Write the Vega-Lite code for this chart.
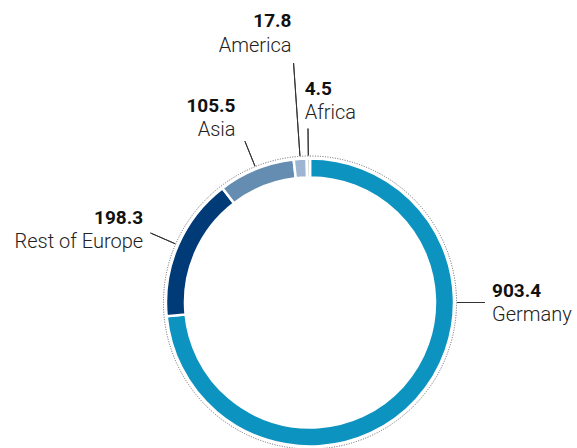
{
  "$schema": "https://vega.github.io/schema/vega-lite/v6.json",
  "width": 534,
  "height": 291,
  "autosize": {"type": "none"},
  "padding": {"left": 43, "top": 157, "right": 0, "bottom": 0},
  "config": {"view": {"stroke": null}},
  "data": {
    "values": [
      {"region": "Germany", "value": 903.4, "rank": 1},
      {"region": "Rest of Europe", "value": 198.3, "rank": 2},
      {"region": "Asia", "value": 105.5, "rank": 3},
      {"region": "America", "value": 17.8, "rank": 4},
      {"region": "Africa", "value": 4.5, "rank": 5}
    ]
  },
  "layer": [
    {
      "transform": [{"filter": "datum.rank === 1"}],
      "mark": {"type": "arc", "theta": 0, "theta2": 6.2832, "radius": 146.5, "radius2": 0, "fill": null, "stroke": "#555", "strokeWidth": 0.9, "strokeDash": [1, 1.5]},
      "encoding": {}
    },
    {
      "mark": {"type": "arc", "radius": 144, "radius2": 125, "stroke": "white", "strokeWidth": 2.5},
      "encoding": {
        "theta": {"field": "value", "type": "quantitative", "stack": true},
        "order": {"field": "rank", "type": "quantitative"},
        "color": {
          "field": "region", "type": "nominal", "legend": null,
          "scale": {
            "domain": ["Germany", "Rest of Europe", "Asia", "America", "Africa"],
            "range": ["#0c93c0", "#003a77", "#658db1", "#9db5d1", "#c9c9c9"]
          }
        }
      }
    },
    {
      "mark": {
        "type": "arc",
        "radius": {"expr": "datum.region === 'America' ? 240 : 174"},
        "radius2": 147,
        "padAngle": 3.1416,
        "fill": null,
        "stroke": "#333",
        "strokeWidth": 1,
        "strokeOpacity": {"expr": "datum.region === 'Germany' ? 0 : 1"}
      },
      "encoding": {
        "theta": {"field": "value", "type": "quantitative", "stack": true},
        "order": {"field": "rank", "type": "quantitative"},
        "detail": {"field": "region", "type": "nominal"}
      }
    },
    {
      "transform": [{"filter": "datum.region === 'Germany'"}],
      "mark": {"type": "arc", "theta": 1.5708, "theta2": 1.5708, "radius": 175, "radius2": 147, "fill": null, "stroke": "#333", "strokeWidth": 1},
      "encoding": {}
    },
    {
      "mark": {
        "type": "text", "font": "Roboto", "fontSize": 19, "fontWeight": "bold", "color": "#111",
        "baseline": "middle", "dy": -12,
        "radius": {"expr": "datum.region === 'America' ? 270 : datum.region === 'Asia' ? 199 : datum.region === 'Africa' ? 202 : 182"},
        "align": {"expr": "datum.region === 'Germany' || datum.region === 'Africa' ? 'left' : 'right'"},
        "thetaOffset": {"expr": "datum.region === 'Germany' ? -0.7375 : datum.region === 'Africa' ? -0.015 : 0"}
      },
      "encoding": {
        "theta": {"field": "value", "type": "quantitative", "stack": true},
        "order": {"field": "rank", "type": "quantitative"},
        "detail": {"field": "region", "type": "nominal"},
        "text": {"field": "value", "type": "quantitative", "format": ".1f"}
      }
    },
    {
      "mark": {
        "type": "text", "font": "Roboto", "fontSize": 20, "fontWeight": 300, "color": "#222",
        "baseline": "middle", "dy": 12.5,
        "radius": {"expr": "datum.region === 'America' ? 270 : datum.region === 'Asia' ? 199 : datum.region === 'Africa' ? 202 : 182"},
        "align": {"expr": "datum.region === 'Germany' || datum.region === 'Africa' ? 'left' : 'right'"},
        "thetaOffset": {"expr": "datum.region === 'Germany' ? -0.7375 : datum.region === 'Africa' ? -0.015 : 0"}
      },
      "encoding": {
        "theta": {"field": "value", "type": "quantitative", "stack": true},
        "order": {"field": "rank", "type": "quantitative"},
        "detail": {"field": "region", "type": "nominal"},
        "text": {"field": "region", "type": "nominal"}
      }
    }
  ]
}
